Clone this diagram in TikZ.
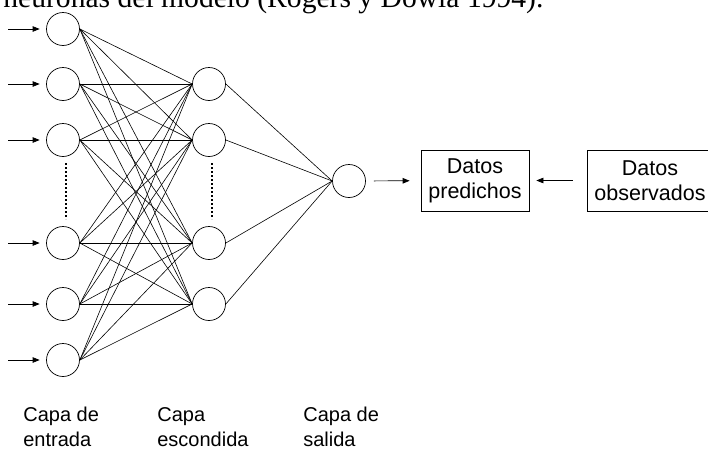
\documentclass[tikz,border=0pt]{standalone}
\usepackage{fontspec}
\setmainfont{Liberation Sans}
\newfontfamily\captionserif{Liberation Serif}
\usetikzlibrary{arrows.meta}

\tikzset{
  neuron/.style={draw,circle,minimum size=33pt,inner sep=0pt},
  databox/.style={draw,align=center,minimum height=61pt,inner sep=0pt,
    font=\fontsize{21.5}{25}\selectfont},
  feed/.style={-{Triangle[length=7pt,width=5.5pt]}},
  weight/.style={line width=0.6pt},
  layerlabel/.style={anchor=north west,align=left,inner sep=0pt},
  vdots/.style={line width=2.3pt,dash pattern=on 2.2pt off 1.8pt}
}

\begin{document}
\begin{tikzpicture}[x=1pt,y=-1pt,line width=0.7pt,font=\fontsize{20}{25}\selectfont]

  \useasboundingbox (0,0) rectangle (708,450);
  \clip (0,0) rectangle (708,450);

  % Caption line (cut by the frame)
  \node[anchor=base west,inner sep=0pt,font=\captionserif\fontsize{29.6}{30}\selectfont]
    (caption) at (3,7.5) {neuronas del modelo (Rogers y Dowla 1994).};

  % Input layer
  \foreach \i/\y in {1/29,2/84,3/140,4/243,5/304,6/360}{
    \node[neuron] (in\i) at (63,\y) {};
    \coordinate (src\i) at (8,\y);
    \draw[feed,shorten >=6.5pt] (src\i) -- (in\i);
  }
  \draw[vdots] (66,163) -- (66,219);

  % Hidden layer
  \foreach \j/\y in {1/84,2/140,3/243,4/304}
    \node[neuron] (hid\j) at (209,\y) {};
  \draw[vdots] (212,163) -- (212,219);

  % Output layer
  \node[neuron] (out) at (349,181) {};

  % Weights
  \foreach \i in {1,...,6}
    \foreach \j in {1,...,4}
      \draw[weight] (in\i.east) -- (hid\j.west);
  \foreach \j in {1,...,4}
    \draw[weight] (hid\j.east) -- (out.west);

  % Data boxes
  \node[databox,minimum width=108pt] (pred) at (475,180.5) {Datos\\predichos};
  \node[databox,minimum width=126pt] (obs) at (650,180.5) {Datos\\observados};
  \draw[feed,shorten <=8pt,shorten >=11pt] (out) -- (pred);
  \draw[feed,shorten <=14pt,shorten >=7pt] (obs) -- (pred);

  % Layer names
  \node[layerlabel] (lin) at (23,407) {Capa de\\entrada};
  \node[layerlabel] (lhid) at (157,407) {Capa\\escondida};
  \node[layerlabel] (lout) at (303,407) {Capa de\\salida};

\end{tikzpicture}
\end{document}
